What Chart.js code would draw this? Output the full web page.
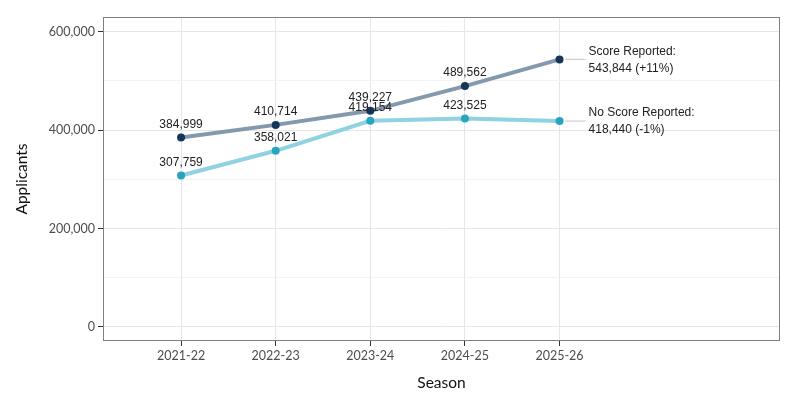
<!DOCTYPE html>
<html>
<head>
<meta charset="utf-8">
<script src="https://cdn.jsdelivr.net/npm/chart.js@4"></script>
<style>
    html, body { margin: 0; padding: 0; background: #ffffff; }
    #wrap { width: 794px; height: 396px; }
</style>
</head>
<body>
<div id="wrap"><canvas id="chart" width="794" height="396"></canvas></div>
<script>
/* --- Data --- */
const seasons = ['2021-22', '2022-23', '2023-24', '2024-25', '2025-26'];
const scoreReported = [384999, 410714, 439227, 489562, 543844];
const noScoreReported = [307759, 358021, 419154, 423525, 418440];
const yTicks = [0, 100000, 200000, 300000, 400000, 500000, 600000];
const endLabels = [
    ['Score Reported:', '543,844 (+11%)'],
    ['No Score Reported:', '418,440 (-1%)']
];

const fmt = v => v.toLocaleString('en-US');

// panel box, point labels and axis titles
const annotate = {
    id: 'annotate',
    beforeDatasetsDraw(chart) {
        const { ctx, chartArea: a } = chart;
        ctx.save();
        ctx.strokeStyle = '#808080';
        ctx.lineWidth = 1;
        ctx.strokeRect(a.left + 0.5, a.top + 0.5, a.right - a.left - 1, a.bottom - a.top - 1);
        ctx.restore();
    },
    afterDatasetsDraw(chart) {
        const { ctx, chartArea: a } = chart;
        ctx.save();
        chart.data.datasets.forEach((ds, di) => {
            const pts = chart.getDatasetMeta(di).data;
            ctx.font = '12px "Liberation Sans", Arial, sans-serif';
            ctx.fillStyle = '#222';
            ctx.textAlign = 'center';
            ctx.textBaseline = 'middle';
            for (let i = 0; i < pts.length - 1; i++) {
                ctx.fillText(fmt(ds.data[i].y), pts[i].x, pts[i].y - 13);
            }
            // end label with connector
            const last = pts[pts.length - 1];
            ctx.strokeStyle = '#cfcfcf';
            ctx.lineWidth = 1.2;
            ctx.beginPath();
            ctx.moveTo(last.x + 6, last.y);
            ctx.lineTo(last.x + 26, last.y);
            ctx.stroke();
            ctx.textAlign = 'left';
            ctx.fillText(endLabels[di][0], last.x + 29, last.y - 8);
            ctx.fillText(endLabels[di][1], last.x + 29, last.y + 9);
        });

        // axis titles
        ctx.fillStyle = '#111';
        ctx.font = '15.5px Lato, sans-serif';
        ctx.textAlign = 'center';
        ctx.textBaseline = 'middle';
        ctx.fillText('Season', (a.left + a.right) / 2, 383);
        ctx.translate(22, (a.top + a.bottom) / 2);
        ctx.rotate(-Math.PI / 2);
        ctx.fillText('Applicants', 0, 0);
        ctx.restore();
    }
};

const toPoints = arr => arr.map((v, i) => ({ x: i, y: v }));

new Chart(document.getElementById('chart'), {
    type: 'line',
    data: {
        datasets: [
            {
                label: 'Score Reported',
                data: toPoints(scoreReported),
                borderColor: '#8498ae',
                borderWidth: 4,
                pointRadius: 4,
                pointBackgroundColor: '#15355a',
                pointBorderWidth: 0,
                tension: 0
            },
            {
                label: 'No Score Reported',
                data: toPoints(noScoreReported),
                borderColor: '#8fd2e1',
                borderWidth: 4,
                pointRadius: 4,
                pointBackgroundColor: '#2aa3be',
                pointBorderWidth: 0,
                tension: 0
            }
        ]
    },
    options: {
        responsive: false,
        animation: false,
        layout: { padding: { top: 17, right: 14, left: 0, bottom: 0 } },
        plugins: { legend: { display: false }, tooltip: { enabled: false } },
        scales: {
            x: {
                type: 'linear',
                min: -0.825,
                max: 6.33,
                afterBuildTicks: s => { s.ticks = seasons.map((_, i) => ({ value: i })); },
                afterFit: s => { s.height = 55; },
                border: { display: false },
                grid: { color: '#e6e6e6', tickLength: 5, tickColor: '#333' },
                ticks: {
                    padding: 2,
                    color: '#4d4d4d',
                    font: { family: 'Lato', size: 12.5 },
                    callback: v => seasons[v] ?? ''
                }
            },
            y: {
                min: -28600,
                max: 630000,
                afterBuildTicks: s => { s.ticks = yTicks.map(v => ({ value: v })); },
                afterFit: s => { s.width = 103; },
                border: { display: false },
                grid: {
                    color: c => (c.tick && c.tick.value % 200000 === 0) ? '#e6e6e6' : '#f3f3f3',
                    tickLength: 5,
                    tickColor: c => (c.tick && c.tick.value % 200000 === 0) ? '#333' : 'rgba(0,0,0,0)'
                },
                ticks: {
                    padding: 3,
                    color: '#4d4d4d',
                    font: { family: 'Lato', size: 12.5 },
                    callback: v => v % 200000 === 0 ? fmt(v) : ''
                }
            }
        }
    },
    plugins: [annotate]
});
</script>
</body>
</html>
